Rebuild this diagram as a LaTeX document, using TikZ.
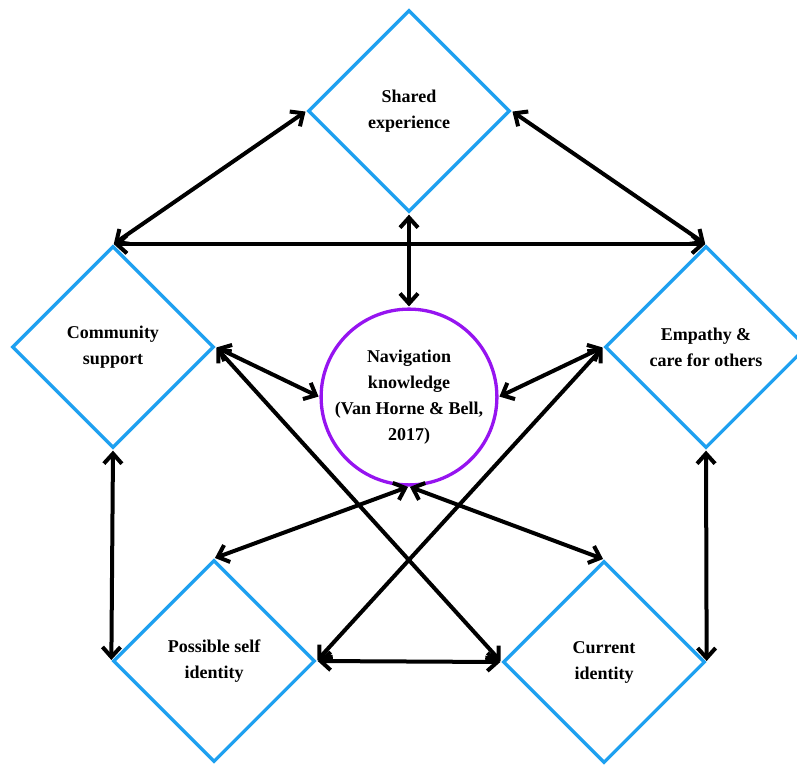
\documentclass[tikz,border=0pt]{standalone}
\usepackage{fontspec}
\setmainfont{Liberation Serif}
\usetikzlibrary{shapes.geometric,arrows.meta}
\definecolor{boxblue}{RGB}{30,160,240}
\definecolor{navpurple}{RGB}{150,20,240}
\tikzset{
  factor/.style={diamond, aspect=1, draw=boxblue, line width=3.3pt, minimum size=202pt,
    inner sep=0pt, align=center, font=\bfseries\fontsize{18}{26}\selectfont},
  hub/.style={circle, draw=navpurple, line width=3.3pt, minimum size=172pt,
    inner sep=0pt, align=center, font=\bfseries\fontsize{18}{26}\selectfont},
  link/.style={{Straight Barb[length=10pt,width=18pt]}-{Straight Barb[length=10pt,width=18pt]},
    line width=4pt, shorten <=1pt, shorten >=1pt}
}

\begin{document}
\begin{tikzpicture}[x=1pt,y=-1pt]
	\clip (0,0) rectangle (797,764);
	\fill [white] (0,0) rectangle (797,764);
	
	%the five factors and the hub
	\node [factor] (shared) at (409,111) {Shared\\experience};
	\node [factor] (community) at (113,347) {Community\\support};
	\node [factor] (empathy) at (706,347) {Empathy \&\\care for others};
	\node [factor] (possible) at (214,661) {Possible self\\identity};
	\node [factor] (current) at (604,662) {Current\\identity};
	\node [hub] (nav) at (409,397) {Navigation\\knowledge\\(Van Horne \& Bell,\\2017)};
	
	%connections
	\draw [link] (shared.west) -- (community.north);
	\draw [link] (shared.east) -- (empathy.north);
	\draw [link] (community.north) -- (empathy.north);
	\draw [link] (shared.south) -- (nav.north);
	\draw [link] (community.east) -- (nav.west);
	\draw [link] (empathy.west) -- (nav.east);
	\draw [link] (community.east) -- (current.west);
	\draw [link] (empathy.west) -- (possible.east);
	\draw [link] (possible.east) -- (current.west);
	\draw [link] (community.south) -- (possible.west);
	\draw [link] (empathy.south) -- (current.east);
	\draw [link] (nav.south) -- (possible.north);
	\draw [link] (nav.south) -- (current.north);
\end{tikzpicture}
\end{document}
